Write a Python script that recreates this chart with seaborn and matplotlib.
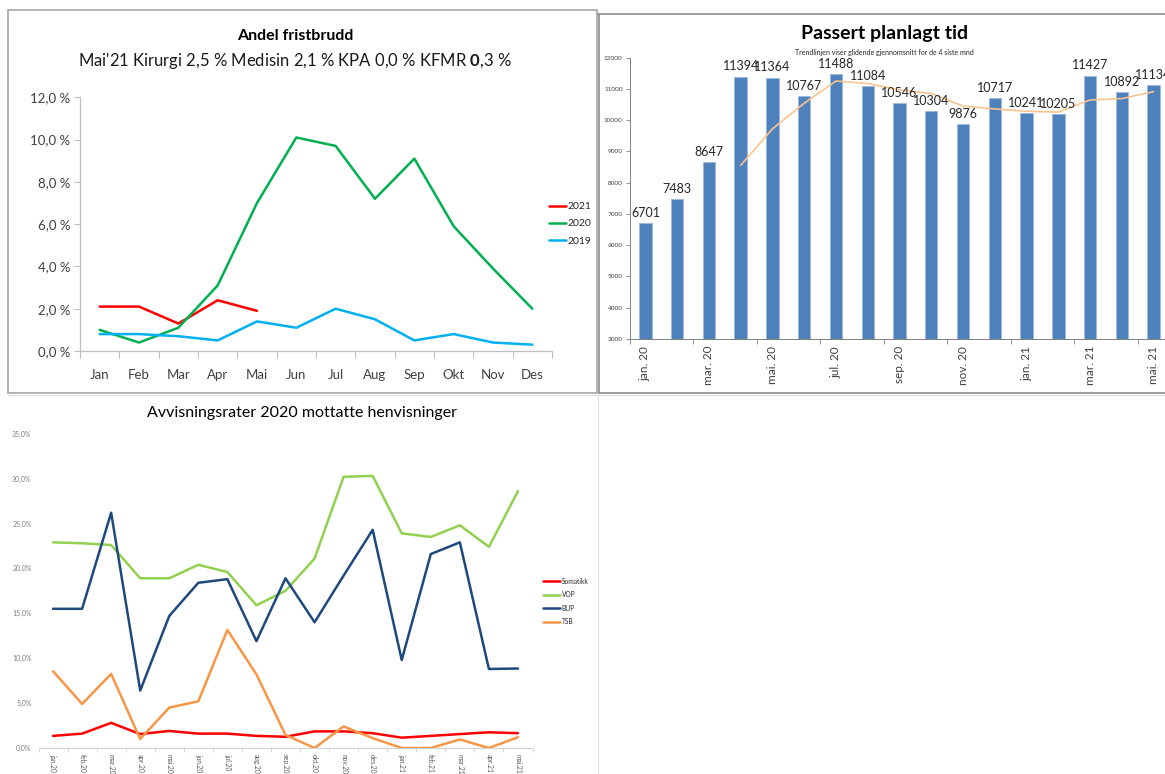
import numpy as np
import pandas as pd
import matplotlib
matplotlib.use("Agg")
import matplotlib.pyplot as plt
import seaborn as sns
from matplotlib.lines import Line2D
from matplotlib.ticker import FuncFormatter, FixedLocator

# ---------------- data ----------------
months = ["Jan", "Feb", "Mar", "Apr", "Mai", "Jun", "Jul", "Aug", "Sep", "Okt", "Nov", "Des"]
fb_2021 = [2.1, 2.1, 1.3, 2.4, 1.9]
fb_2020 = [1.0, 0.4, 1.1, 3.1, 7.0, 10.1, 9.7, 7.2, 9.1, 5.9, 3.9, 2.0]
fb_2019 = [0.8, 0.8, 0.7, 0.5, 1.4, 1.1, 2.0, 1.5, 0.5, 0.8, 0.4, 0.3]

bar_months = ["jan. 20", "feb. 20", "mar. 20", "apr. 20", "mai. 20", "jun. 20", "jul. 20",
              "aug. 20", "sep. 20", "okt. 20", "nov. 20", "des. 20", "jan. 21", "feb. 21",
              "mar. 21", "apr. 21", "mai. 21"]
passert = [6701, 7483, 8647, 11394, 11364, 10767, 11488, 11084, 10546, 10304, 9876,
           10717, 10241, 10205, 11427, 10892, 11134]
trend_window = 4

avv_months = ["jan.20", "feb.20", "mar.20", "apr.20", "mai.20", "jun.20", "jul.20", "aug.20",
              "sep.20", "okt.20", "nov.20", "des.20", "jan.21", "feb.21", "mar.21", "apr.21",
              "mai.21"]
somatikk = [1.35, 1.6, 2.8, 1.55, 1.9, 1.6, 1.6, 1.35, 1.25, 1.85, 1.85, 1.65, 1.15, 1.35, 1.55, 1.75, 1.65]
vop = [22.9, 22.8, 22.6, 18.9, 18.9, 20.4, 19.6, 15.9, 17.5, 21.1, 30.2, 30.3, 23.9, 23.5, 24.8, 22.4, 28.6]
bup = [15.5, 15.5, 26.2, 6.4, 14.7, 18.4, 18.8, 11.9, 18.9, 14.0, 19.2, 24.3, 9.8, 21.6, 22.9, 8.8, 8.85]
tsb = [8.55, 4.9, 8.25, 1.0, 4.5, 5.2, 13.15, 8.2, 1.45, 0.0, 2.4, 1.1, 0.0, 0.0, 0.95, 0.0, 1.2]

# ---------------- style ----------------
sns.set_style("white")
plt.rcParams["font.family"] = ["Lato", "DejaVu Sans"]
plt.rcParams["mathtext.fontset"] = "custom"
plt.rcParams["mathtext.rm"] = "Lato"
plt.rcParams["mathtext.bf"] = "Lato:bold"

W, H = 1165, 774
fig = plt.figure(figsize=(W / 100, H / 100), dpi=100)
fig.patch.set_facecolor("white")


def px_axes(x0, y0, x1, y1):
    return fig.add_axes([x0 / W, 1 - y1 / H, (x1 - x0) / W, (y1 - y0) / H])


def fline(x0, y0, x1, y1, color, lw):
    fig.add_artist(Line2D([x0 / W, x1 / W], [1 - y0 / H, 1 - y1 / H],
                          transform=fig.transFigure, color=color, lw=lw))


# ---------------- panel 1: Andel fristbrudd ----------------
ax1 = px_axes(80, 97.3, 552, 351)
rows = []
for year, vals in (("2021", fb_2021), ("2020", fb_2020), ("2019", fb_2019)):
    for i, v in enumerate(vals):
        rows.append({"pos": i, "val": v, "year": year})
df1 = pd.DataFrame(rows)
pal1 = {"2021": "#FF0000", "2020": "#00B050", "2019": "#00B0F0"}
sns.lineplot(data=df1, x="pos", y="val", hue="year", hue_order=["2021", "2020", "2019"],
             palette=pal1, linewidth=1.8, sort=False, legend=False, ax=ax1)
ax1.set_xlim(-0.5, len(months) - 0.5)
ax1.set_ylim(0, 12)
ax1.set_xticks(range(len(months)))
ax1.set_xticklabels(months, fontsize=9.5, color="#404040")
ax1.xaxis.set_minor_locator(FixedLocator(np.arange(-0.5, len(months), 1)))
ax1.tick_params(axis="x", which="major", length=0, pad=13)
ax1.tick_params(axis="x", which="minor", length=5, width=0.8, color="#BFBFBF", direction="out")
ax1.set_yticks(np.arange(0, 12.01, 2))
ax1.yaxis.set_major_formatter(FuncFormatter(lambda v, p: f"{v:.1f} %".replace(".", ",")))
ax1.tick_params(axis="y", labelsize=9.5, labelcolor="#404040", length=4, width=0.8,
                color="#BFBFBF", direction="out", pad=3, left=True)
ax1.tick_params(axis="x", bottom=True, which="both")
for s in ("top", "right"):
    ax1.spines[s].set_visible(False)
for s in ("left", "bottom"):
    ax1.spines[s].set_color("#BFBFBF")
    ax1.spines[s].set_linewidth(0.9)
ax1.set_xlabel("")
ax1.set_ylabel("")
h1 = [Line2D([], [], color=pal1[k], lw=1.8) for k in ("2021", "2020", "2019")]
ax1.legend(h1, ["2021", "2020", "2019"], loc="upper left",
           bbox_to_anchor=(549 / W, 1 - 202 / H), bbox_transform=fig.transFigure,
           frameon=False, fontsize=7.5, handlelength=1.6, handletextpad=0.2,
           labelspacing=0.75, borderpad=0, borderaxespad=0)
fig.text(295 / W, 1 - 36.5 / H, "Andel fristbrudd", ha="center", va="center",
         fontsize=11.5, fontweight="bold", color="black")
fig.text(295 / W, 1 - 61 / H,
         r"Mai'21 Kirurgi 2,5 % Medisin 2,1 % KPA 0,0 % KFMR $\mathbf{0}$,3 %",
         ha="center", va="center", fontsize=12, color="#1a1a1a")

# ---------------- panel 2: Passert planlagt tid ----------------
ax2 = px_axes(629.5, 57.7, 1169.5, 339)
df2 = pd.DataFrame({"mnd": bar_months, "antall": passert})
sns.barplot(data=df2, x="mnd", y="antall", color="#4F81BD", saturation=1, width=0.39,
            edgecolor="#9DB9DC", linewidth=0.6, ax=ax2)
trend = df2["antall"].rolling(trend_window).mean()
sns.lineplot(x=np.arange(len(bar_months)), y=trend, color="#F9C490", linewidth=1.2, ax=ax2)
ax2.set_xlim(-0.5, len(bar_months) - 0.5)
ax2.set_ylim(3000, 12000)
ax2.set_yticks(np.arange(3000, 12001, 1000))
ax2.tick_params(axis="y", labelsize=4.6, labelcolor="#404040", length=3, width=0.6,
                color="#808080", direction="out", pad=2, left=True)
ax2.set_xticks(range(0, len(bar_months), 2))
ax2.set_xticklabels(bar_months[::2], rotation=90, fontsize=8.5, color="#404040")
ax2.xaxis.set_minor_locator(FixedLocator(np.arange(-0.5, len(bar_months), 2)))
ax2.tick_params(axis="x", which="major", length=0, pad=5)
ax2.tick_params(axis="x", which="minor", length=3.5, width=0.6, color="#808080",
                direction="out", bottom=True)
for s in ("top", "right"):
    ax2.spines[s].set_visible(False)
for s in ("left", "bottom"):
    ax2.spines[s].set_color("#808080")
    ax2.spines[s].set_linewidth(0.7)
ax2.set_xlabel("")
ax2.set_ylabel("")
for i, v in enumerate(passert):
    ax2.annotate(f"{v}", (i, v), xytext=(0, 3), textcoords="offset points",
                 ha="center", va="bottom", fontsize=9, color="#262626", annotation_clip=False)
fig.text(885 / W, 1 - 33 / H, "Passert planlagt tid", ha="center", va="center",
         fontsize=14, fontweight="bold", color="black")
fig.text(884 / W, 1 - 52.5 / H, "Trendlinjen viser glidende gjennomsnitt for de 4 siste mnd",
         ha="center", va="center", fontsize=5, color="#262626")

# ---------------- panel 3: Avvisningsrater ----------------
ax3 = px_axes(38.5, 433.7, 532.5, 748)
series3 = {"Somatikk": somatikk, "VOP": vop, "BUP": bup, "TSB": tsb}
pal3 = {"Somatikk": "#FF0000", "VOP": "#92D050", "BUP": "#1F497D", "TSB": "#F79646"}
rows = []
for name, vals in series3.items():
    for i, v in enumerate(vals):
        rows.append({"pos": i, "val": v, "serie": name})
df3 = pd.DataFrame(rows)
sns.lineplot(data=df3, x="pos", y="val", hue="serie", hue_order=list(series3.keys()),
             palette=pal3, linewidth=1.8, sort=False, legend=False, ax=ax3)
ax3.set_xlim(-0.5, len(avv_months) - 0.5)
ax3.set_ylim(0, 35)
ax3.set_yticks(np.arange(0, 35.01, 5))
ax3.yaxis.set_major_formatter(FuncFormatter(lambda v, p: f"{v:.1f}%".replace(".", ",")))
ax3.tick_params(axis="y", labelsize=5, labelcolor="#7F7F7F", length=0, pad=5)
ax3.set_xticks(range(len(avv_months)))
ax3.set_xticklabels(avv_months, rotation=-90, fontsize=4.8, color="#595959")
ax3.xaxis.set_minor_locator(FixedLocator(np.arange(-0.5, len(avv_months), 1)))
ax3.tick_params(axis="x", which="major", length=0, pad=4)
ax3.tick_params(axis="x", which="minor", length=3, width=0.6, color="#D0D0D0",
                direction="out", bottom=True)
for s in ("top", "right", "left"):
    ax3.spines[s].set_visible(False)
ax3.spines["bottom"].set_color("#D0D0D0")
ax3.spines["bottom"].set_linewidth(0.7)
ax3.set_xlabel("")
ax3.set_ylabel("")
h3 = [Line2D([], [], color=pal3[k], lw=1.8) for k in series3]
ax3.legend(h3, list(series3.keys()), loc="upper left",
           bbox_to_anchor=(543 / W, 1 - 577.5 / H), bbox_transform=fig.transFigure,
           frameon=False, fontsize=4.8, handlelength=2.6, handletextpad=0.2,
           labelspacing=1.0, borderpad=0, borderaxespad=0)
fig.text(302 / W, 1 - 413 / H, "Avvisningsrater 2020 mottatte henvisninger",
         ha="center", va="center", fontsize=11.5, color="black")

# ---------------- panel frames ----------------
fline(8, 10, 597, 10, "#A6A6A6", 1.2)
fline(8, 10, 8, 393, "#A6A6A6", 1.2)
fline(597, 10, 597, 393, "#A6A6A6", 1.2)
fline(8, 393, 597, 393, "#A6A6A6", 1.2)
fline(598, 14, 1165, 14, "#8C8C8C", 1.2)
fline(599, 14, 599, 393, "#8C8C8C", 1.2)
fline(599, 393, 1165, 393, "#8C8C8C", 1.2)
fline(8, 394.5, 1165, 394.5, "#DDDDDD", 0.8)
fline(598, 394.5, 598, 774, "#DDDDDD", 0.8)

fig.savefig("out.png", dpi=100, facecolor="white")
